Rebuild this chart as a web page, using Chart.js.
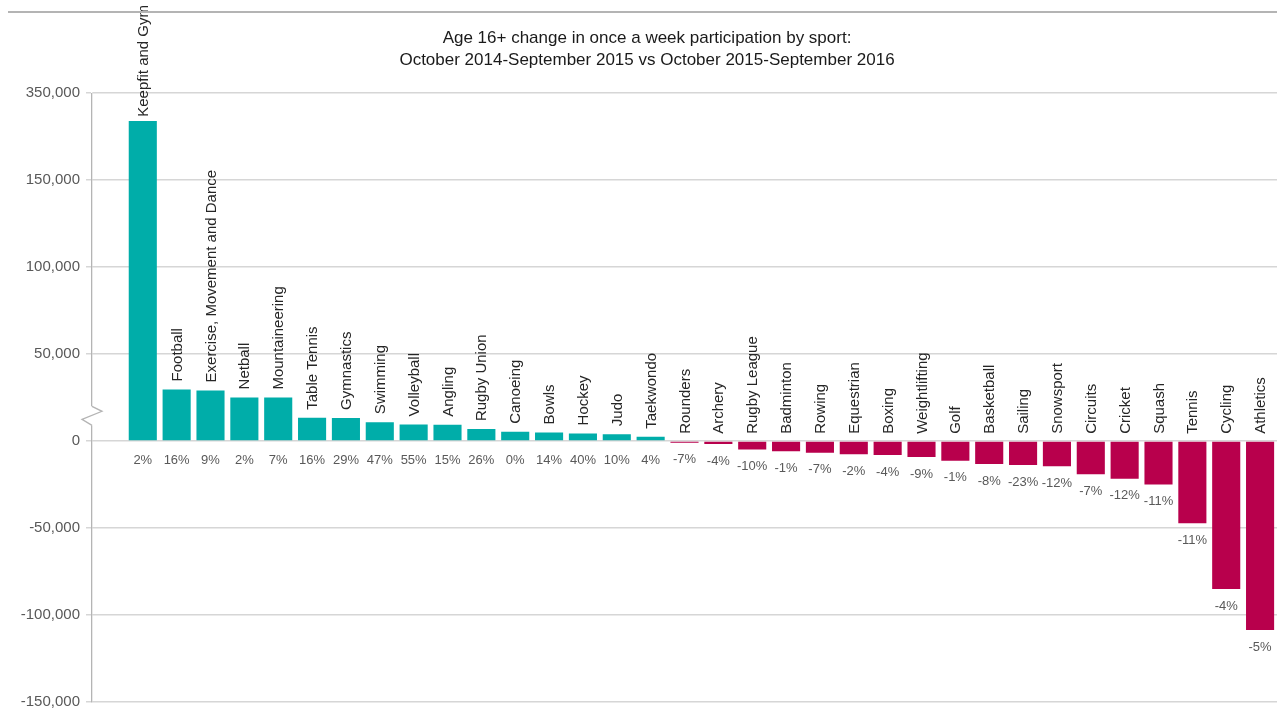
<!DOCTYPE html>
<html>
<head>
<meta charset="utf-8">
<script src="https://cdn.jsdelivr.net/npm/chart.js@4.4.1/dist/chart.umd.min.js"></script>
<style>
  html, body { margin: 0; padding: 0; background: #fff; }
  #wrap { position: relative; width: 1277px; height: 713px; }
  #rule { position: absolute; left: 8px; right: 0; top: 11px; border-top: 2px solid #b4b4b4; }
</style>
</head>
<body>
<div id="wrap">
  <div id="rule"></div>
  <canvas id="sportChart" width="1277" height="713"></canvas>
</div>
<script>
  const sports = ["Keepfit and Gym", "Football", "Exercise, Movement and Dance", "Netball", "Mountaineering",
    "Table Tennis", "Gymnastics", "Swimming", "Volleyball", "Angling", "Rugby Union", "Canoeing", "Bowls",
    "Hockey", "Judo", "Taekwondo", "Rounders", "Archery", "Rugby League", "Badminton", "Rowing", "Equestrian",
    "Boxing", "Weightlifting", "Golf", "Basketball", "Sailing", "Snowsport", "Circuits", "Cricket", "Squash",
    "Tennis", "Cycling", "Athletics"];
  const change = [334000, 29700, 29100, 25100, 25000, 13400, 13300, 10900, 9600, 9400, 6900, 5300, 5000,
    4400, 4000, 2500, -1000, -1700, -4800, -5900, -6700, -7500, -8000, -9200, -11300, -13200, -13800,
    -14400, -19000, -21700, -24900, -47300, -85100, -108600];
  const pctChange = ["2%", "16%", "9%", "2%", "7%", "16%", "29%", "47%", "55%", "15%", "26%", "0%", "14%",
    "40%", "10%", "4%", "-7%", "-4%", "-10%", "-1%", "-7%", "-2%", "-4%", "-9%", "-1%", "-8%", "-23%",
    "-12%", "-7%", "-12%", "-11%", "-11%", "-4%", "-5%"];
  const yTicks = [-150000, -100000, -50000, 0, 50000, 100000, 150000, 350000];

  // axis is broken between 150,000 and 300,000
  const BREAK_LOW = 150000, BREAK_GAP = 150000;
  const toAxis = v => v > BREAK_LOW ? v - BREAK_GAP : v;
  const fromAxis = v => v > BREAK_LOW ? v + BREAK_GAP : v;

  const FONT = "'Liberation Sans', Arial, sans-serif";

  const barLabels = {
    id: 'barLabels',
    afterDatasetsDraw(chart) {
      const ctx = chart.ctx;
      const meta = chart.getDatasetMeta(0);
      ctx.save();
      meta.data.forEach((bar, i) => {
        const v = change[i];
        ctx.font = "15px " + FONT;
        const w = ctx.measureText(sports[i]).width;
        let anchor = v >= 0 ? bar.y - 8 : bar.base - 8;
        anchor = Math.max(anchor, w + 5);
        ctx.save();
        ctx.translate(bar.x, anchor);
        ctx.rotate(-Math.PI / 2);
        ctx.fillStyle = '#262626';
        ctx.textAlign = 'left';
        ctx.textBaseline = 'middle';
        ctx.fillText(sports[i], 0, 1);
        ctx.restore();

        ctx.font = "13px " + FONT;
        ctx.fillStyle = '#595959';
        ctx.textAlign = 'center';
        ctx.textBaseline = 'middle';
        const py = v >= 0 ? bar.base + 20 : bar.y + 17;
        ctx.fillText(pctChange[i], bar.x, py);
      });
      ctx.restore();
    },
    afterDraw(chart) {
      const ctx = chart.ctx;
      const y = chart.scales.y;
      const x0 = chart.chartArea.left;
      const top = y.getPixelForValue(toAxis(170000));
      const bot = y.getPixelForValue(toAxis(159000));
      ctx.save();
      ctx.fillStyle = '#fff';
      ctx.fillRect(x0 - 2, top, 4, bot - top);
      ctx.strokeStyle = '#b4b4b4';
      ctx.lineWidth = 1.3;
      ctx.beginPath();
      ctx.moveTo(x0, top);
      ctx.lineTo(x0 + 10, top + 5);
      ctx.lineTo(x0 - 10, bot - 6);
      ctx.lineTo(x0, bot);
      ctx.stroke();
      ctx.restore();
    }
  };

  new Chart(document.getElementById("sportChart"), {
    type: 'bar',
    data: {
      datasets: [{
        data: change.map((v, i) => ({ x: i, y: toAxis(v) })),
        backgroundColor: change.map(v => v >= 0 ? "#00ADA9" : "#B8004C"),
        categoryPercentage: 1,
        barPercentage: 0.83
      }]
    },
    plugins: [barLabels],
    options: {
      responsive: false,
      animation: false,
      layout: { padding: { left: 17, right: 0, top: 10, bottom: 11 } },
      scales: {
        x: {
          type: 'linear',
          min: -1.5,
          max: 33.5,
          offset: false,
          display: false
        },
        y: {
          min: -150000,
          max: 200000,
          afterBuildTicks: scale => { scale.ticks = yTicks.map(v => ({ value: toAxis(v) })); },
          afterFit: scale => {
            scale.width = 75;
            scale.paddingTop = 0;
            scale.paddingBottom = 0;
          },
          ticks: {
            color: '#595959',
            padding: 6,
            font: { family: FONT, size: 15 },
            callback: v => fromAxis(v).toLocaleString('en-GB')
          },
          grid: { color: '#d6d6d6', lineWidth: 1.5, tickLength: 6 },
          border: { color: '#b4b4b4', width: 1.3 }
        }
      },
      plugins: {
        legend: { display: false },
        tooltip: { enabled: false },
        title: {
          display: true,
          text: ["Age 16+ change in once a week participation by sport:",
                 "October 2014-September 2015 vs October 2015-September 2016"],
          color: '#1a1a1a',
          font: { family: FONT, size: 17, weight: 'normal', lineHeight: 1.3 },
          padding: { top: 17, bottom: 22 }
        }
      }
    }
  });
</script>
</body>
</html>
